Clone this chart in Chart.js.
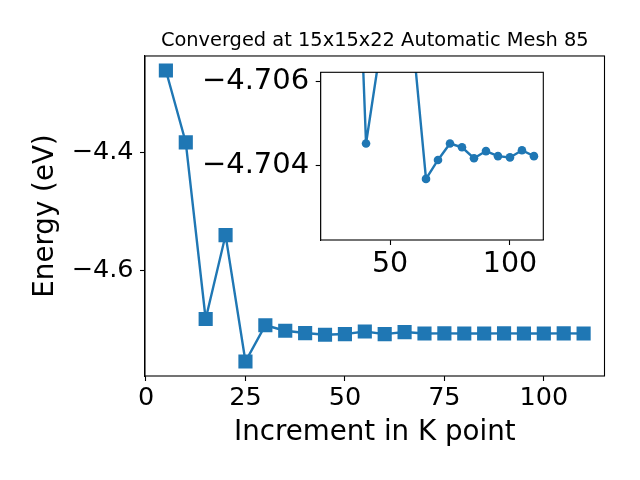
<!DOCTYPE html>
<html>
<head>
<meta charset="utf-8">
<script src="https://cdn.jsdelivr.net/npm/chart.js@4.4.1/dist/chart.umd.min.js"></script>
<style>
  html, body { margin: 0; padding: 0; background: #fff; }
  #contenedor { position: relative; width: 640px; height: 480px; }
  #principal { position: absolute; left: 0; top: 0; }
  #recuadro { position: absolute; left: 190px; top: 60px; }
</style>
</head>
<body>
<div id="contenedor">
  <canvas id="principal" width="640" height="480"></canvas>
  <canvas id="recuadro" width="360" height="230"></canvas>
</div>
<script>
// Datos de la gráfica principal
const puntosK = [5, 10, 15, 20, 25, 30, 35, 40, 45, 50, 55, 60, 65, 70, 75, 80, 85, 90, 95, 100, 105, 110];
const energias = [-4.2613, -4.383, -4.682, -4.540, -4.754, -4.6927, -4.702, -4.7059, -4.7088, -4.7076, -4.7032,
  -4.7076, -4.7042, -4.7066, -4.7065, -4.7066, -4.7066, -4.7065, -4.7066, -4.7066, -4.7065, -4.7066];
const marcasX = [0, 25, 50, 75, 100];
const marcasY = [-4.4, -4.6];

// Datos del recuadro ampliado (eje y invertido)
const puntosKRecuadro = [30, 35, 40, 45, 50, 55, 60, 65, 70, 75, 80, 85, 90, 95, 100, 105, 110];
const energiasRecuadro = [-4.72, -4.712, -4.70452, -4.7064, -4.709, -4.708, -4.7067, -4.70368, -4.70413, -4.70452,
  -4.70443, -4.70417, -4.70434, -4.70422, -4.70419, -4.70436, -4.70422];
const marcasXRecuadro = [50, 100];
const marcasYRecuadro = [-4.706, -4.704];

const AZUL = '#1f77b4';
Chart.defaults.font.family = "'DejaVu Sans', sans-serif";
Chart.defaults.color = '#000';

/**
 * Dibuja el marco completo alrededor del área de la gráfica (como los ejes de matplotlib).
 */
const marco = {
  id: 'marco',
  beforeDatasetsDraw(chart) {
    const { ctx, chartArea: a } = chart;
    ctx.save();
    ctx.fillStyle = '#fff';
    ctx.fillRect(a.left, a.top, a.right - a.left, a.bottom - a.top);
    ctx.restore();
  },
  afterDraw(chart) {
    const { ctx, chartArea: a } = chart;
    ctx.save();
    ctx.strokeStyle = '#000';
    ctx.lineWidth = 1.1;
    ctx.strokeRect(a.left, a.top, a.right - a.left, a.bottom - a.top);
    ctx.restore();
  }
};

function conMenos(valor, decimales) {
  return valor.toFixed(decimales).replace('-', '\u2212');
}

// Fija el tamaño del eje y quita el relleno extra que Chart.js reserva para las etiquetas
function tamanoFijo(ancho, alto) {
  return eje => {
    if (ancho) eje.width = ancho;
    if (alto) eje.height = alto;
    eje.paddingTop = 0;
    eje.paddingBottom = 0;
    eje.paddingLeft = 0;
    eje.paddingRight = 0;
  };
}

/**
 * Crea la configuración de un eje lineal con marcas fijas.
 */
function crearEje(min, max, marcas, formato, tamFuente, relleno, ajuste, extra) {
  return Object.assign({
    type: 'linear',
    min: min,
    max: max,
    afterBuildTicks: eje => { eje.ticks = marcas.map(v => ({ value: v })); },
    afterFit: ajuste,
    ticks: { callback: formato, color: '#000', autoSkip: false, maxRotation: 0, padding: relleno,
      font: { size: tamFuente } },
    grid: { drawOnChartArea: false, drawTicks: true, tickLength: 5, tickWidth: 1.1, tickColor: '#000' },
    border: { display: true, color: '#000', width: 1.1 }
  }, extra || {});
}

function puntos(xs, ys) {
  return xs.map((x, i) => ({ x: x, y: ys[i] }));
}

new Chart(document.getElementById('principal').getContext('2d'), {
  type: 'line',
  data: {
    datasets: [{
      data: puntos(puntosK, energias),
      borderColor: AZUL,
      backgroundColor: AZUL,
      borderWidth: 2.4,
      tension: 0,
      pointStyle: 'rect',
      pointRadius: 10,
      pointBorderWidth: 0,
      pointBackgroundColor: AZUL
    }]
  },
  options: {
    responsive: false,
    animation: false,
    layout: { padding: { left: 0, right: 35.5, top: 0, bottom: 0 } },
    plugins: {
      legend: { display: false },
      tooltip: { enabled: false },
      title: {
        display: true,
        text: 'Converged at 15x15x22 Automatic Mesh 85',
        color: '#000',
        fullSize: false,
        font: { size: 19.4, weight: 'normal' },
        padding: { top: 29.4, bottom: 3.3 }
      }
    },
    scales: {
      x: crearEje(-0.25, 115.25, marcasX, v => String(v), 25.5, 2, tamanoFijo(0, 104), {
        title: { display: true, text: 'Increment in K point', color: '#000', font: { size: 27.7 },
          padding: { top: 0, bottom: 31 } }
      }),
      y: crearEje(-4.7786, -4.2367, marcasY, v => conMenos(v, 1), 25.5, 6.5, tamanoFijo(145, 0), {
        title: { display: true, text: 'Energy (eV)', color: '#000', font: { size: 27.7 },
          padding: { top: 29, bottom: 0 } }
      })
    }
  },
  plugins: [marco]
});

new Chart(document.getElementById('recuadro').getContext('2d'), {
  type: 'line',
  data: {
    datasets: [{
      data: puntos(puntosKRecuadro, energiasRecuadro),
      borderColor: AZUL,
      backgroundColor: AZUL,
      borderWidth: 2.4,
      tension: 0,
      pointStyle: 'circle',
      pointRadius: 4.3,
      pointBorderWidth: 0,
      pointBackgroundColor: AZUL,
      clip: 0
    }]
  },
  options: {
    responsive: false,
    animation: false,
    layout: { padding: { left: 0, right: 6.7, top: 12.3, bottom: 0 } },
    plugins: {
      legend: { display: false },
      tooltip: { enabled: false }
    },
    scales: {
      x: crearEje(21.1, 113.9, marcasXRecuadro, v => String(v), 28.5, 2.5, tamanoFijo(0, 50)),
      y: crearEje(-4.70621, -4.70223, marcasYRecuadro, v => conMenos(v, 3), 29, 6.5,
        tamanoFijo(130.7, 0), { reverse: true })
    }
  },
  plugins: [marco]
});
</script>
</body>
</html>
